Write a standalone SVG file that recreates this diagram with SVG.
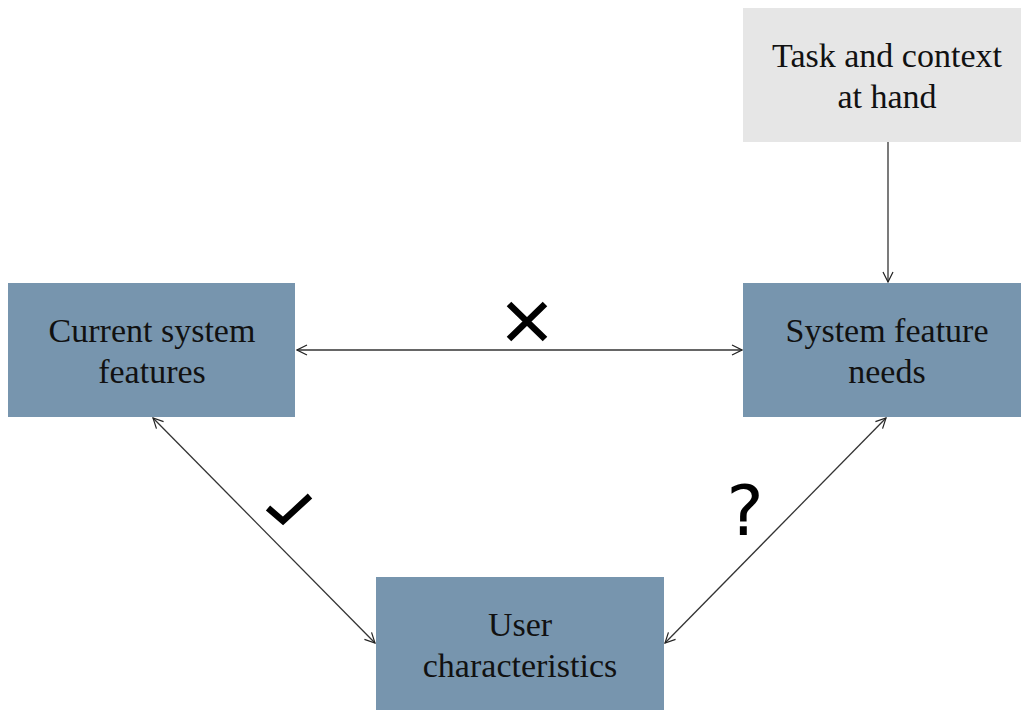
<svg xmlns="http://www.w3.org/2000/svg" width="1021" height="710" viewBox="0 0 1021 710">
  <defs>
    <marker id="open" viewBox="0 0 12 12" refX="11" refY="6" markerWidth="12" markerHeight="12" markerUnits="userSpaceOnUse" orient="auto-start-reverse">
      <path d="M1,1 L11,6 L1,11" fill="none" stroke="#222" stroke-width="1.2"/>
    </marker>
    <style>
      .box { fill: #7795ae; }
      .ctx { fill: #e6e6e6; }
      .lbl { font-family: "Liberation Serif", "Times New Roman", serif; font-size: 34px; fill: #111; text-anchor: middle; }
      .link { stroke: #333; stroke-width: 1.3; fill: none; marker-start: url(#open); marker-end: url(#open); }
      .one { stroke: #333; stroke-width: 1.3; fill: none; marker-end: url(#open); }
      .mark { stroke: #000; stroke-width: 6.5; fill: none; }
    </style>
  </defs>
  <rect width="1021" height="710" fill="#fff"/>

  <g id="task">
    <rect class="ctx" x="743" y="8" width="278" height="134"/>
    <text class="lbl" x="887" y="67">Task and context</text>
    <text class="lbl" x="887" y="108">at hand</text>
  </g>

  <g id="current">
    <rect class="box" x="8" y="283" width="287" height="134"/>
    <text class="lbl" x="152" y="342">Current system</text>
    <text class="lbl" x="152" y="383">features</text>
  </g>

  <g id="needs">
    <rect class="box" x="743" y="283" width="278" height="134"/>
    <text class="lbl" x="887" y="342">System feature</text>
    <text class="lbl" x="887" y="383">needs</text>
  </g>

  <g id="user">
    <rect class="box" x="376" y="577" width="288" height="133"/>
    <text class="lbl" x="520" y="636">User</text>
    <text class="lbl" x="520" y="677">characteristics</text>
  </g>

  <g id="connectors">
    <line class="link" x1="297" y1="350" x2="742" y2="350"/>
    <line class="one" x1="888" y1="142" x2="888" y2="282"/>
    <line class="link" x1="153" y1="418" x2="375" y2="643"/>
    <line class="link" x1="886" y1="418" x2="665" y2="643"/>
    <!-- relation marks -->
    <path class="mark" d="M509,304 L545,339 M545,304 L509,339"/>
    <path class="mark" d="M268,508 L283,521 L310,496"/>
    <text x="745" y="535" font-family="DejaVu Sans, sans-serif" font-size="70" text-anchor="middle" fill="#000">?</text>
  </g>
</svg>
